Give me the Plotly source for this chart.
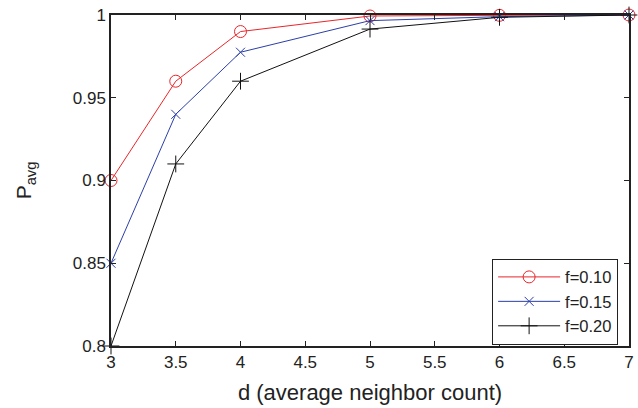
import plotly.graph_objects as go

d_vals = [3, 3.5, 4, 5, 6, 7]
p_f010 = [0.900, 0.960, 0.990, 0.9994, 0.9998, 1.0]
p_f015 = [0.850, 0.940, 0.9775, 0.9966, 0.9990, 1.0]
p_f020 = [0.800, 0.910, 0.960, 0.9915, 0.9986, 1.0]
series_names = ["f=0.10", "f=0.15", "f=0.20"]
x_ticks = [3, 3.5, 4, 4.5, 5, 5.5, 6, 6.5, 7]
y_ticks = [0.8, 0.85, 0.9, 0.95, 1]

fig = go.Figure()
styles = [
    (p_f010, "#e8262a", "circle-open", 12),
    (p_f015, "#2b3fa8", "x-thin-open", 9),
    (p_f020, "#111111", "cross-thin-open", 12),
]
for name, (vals, color, sym, size) in zip(series_names, styles):
    fig.add_trace(go.Scatter(
        x=d_vals, y=vals, name=name, mode="lines+markers",
        line=dict(color=color, width=1),
        marker=dict(symbol=sym, size=size, color=color, line=dict(color=color, width=1)),
        cliponaxis=False,
    ))

font_family = "Liberation Sans, Arial, sans-serif"
fig.update_layout(
    template="none",
    width=638, height=408,
    margin=dict(l=111, r=9, t=15, b=62, autoexpand=False),
    paper_bgcolor="white", plot_bgcolor="white",
    font=dict(family=font_family, size=17, color="#222"),
    showlegend=True,
    legend=dict(
        x=0.979, y=0.004, xanchor="right", yanchor="bottom",
        bordercolor="#222", borderwidth=1, bgcolor="white",
        font=dict(size=16.5), tracegroupgap=0, itemwidth=62,
    ),
    xaxis=dict(
        range=[3, 7], tickvals=x_ticks, ticktext=[str(v) for v in x_ticks],
        ticks="inside", ticklen=5, tickcolor="#222",
        showline=True, linecolor="#222", linewidth=1.5, mirror="ticks",
        showgrid=False, zeroline=False, automargin=False,
        ticklabeloverflow="allow",
        tickfont=dict(size=17),
        title=dict(text="d (average neighbor count)", font=dict(size=22), standoff=13),
    ),
    yaxis=dict(
        range=[0.8, 1], tickvals=y_ticks, ticktext=["0.8", "0.85", "0.9", "0.95", "1"],
        ticks="inside", ticklen=5, tickcolor="#222",
        showline=True, linecolor="#222", linewidth=1.5, mirror="ticks",
        showgrid=False, zeroline=False, automargin=False,
        ticklabeloverflow="allow",
        tickfont=dict(size=17),
        title=dict(text="P<sub>avg</sub>", font=dict(size=21), standoff=35),
    ),
)

fig.write_html(
    "out.html",
    config={"displayModeBar": False},
    post_script="document.body.style.margin='0';document.body.style.overflow='hidden';",
)
